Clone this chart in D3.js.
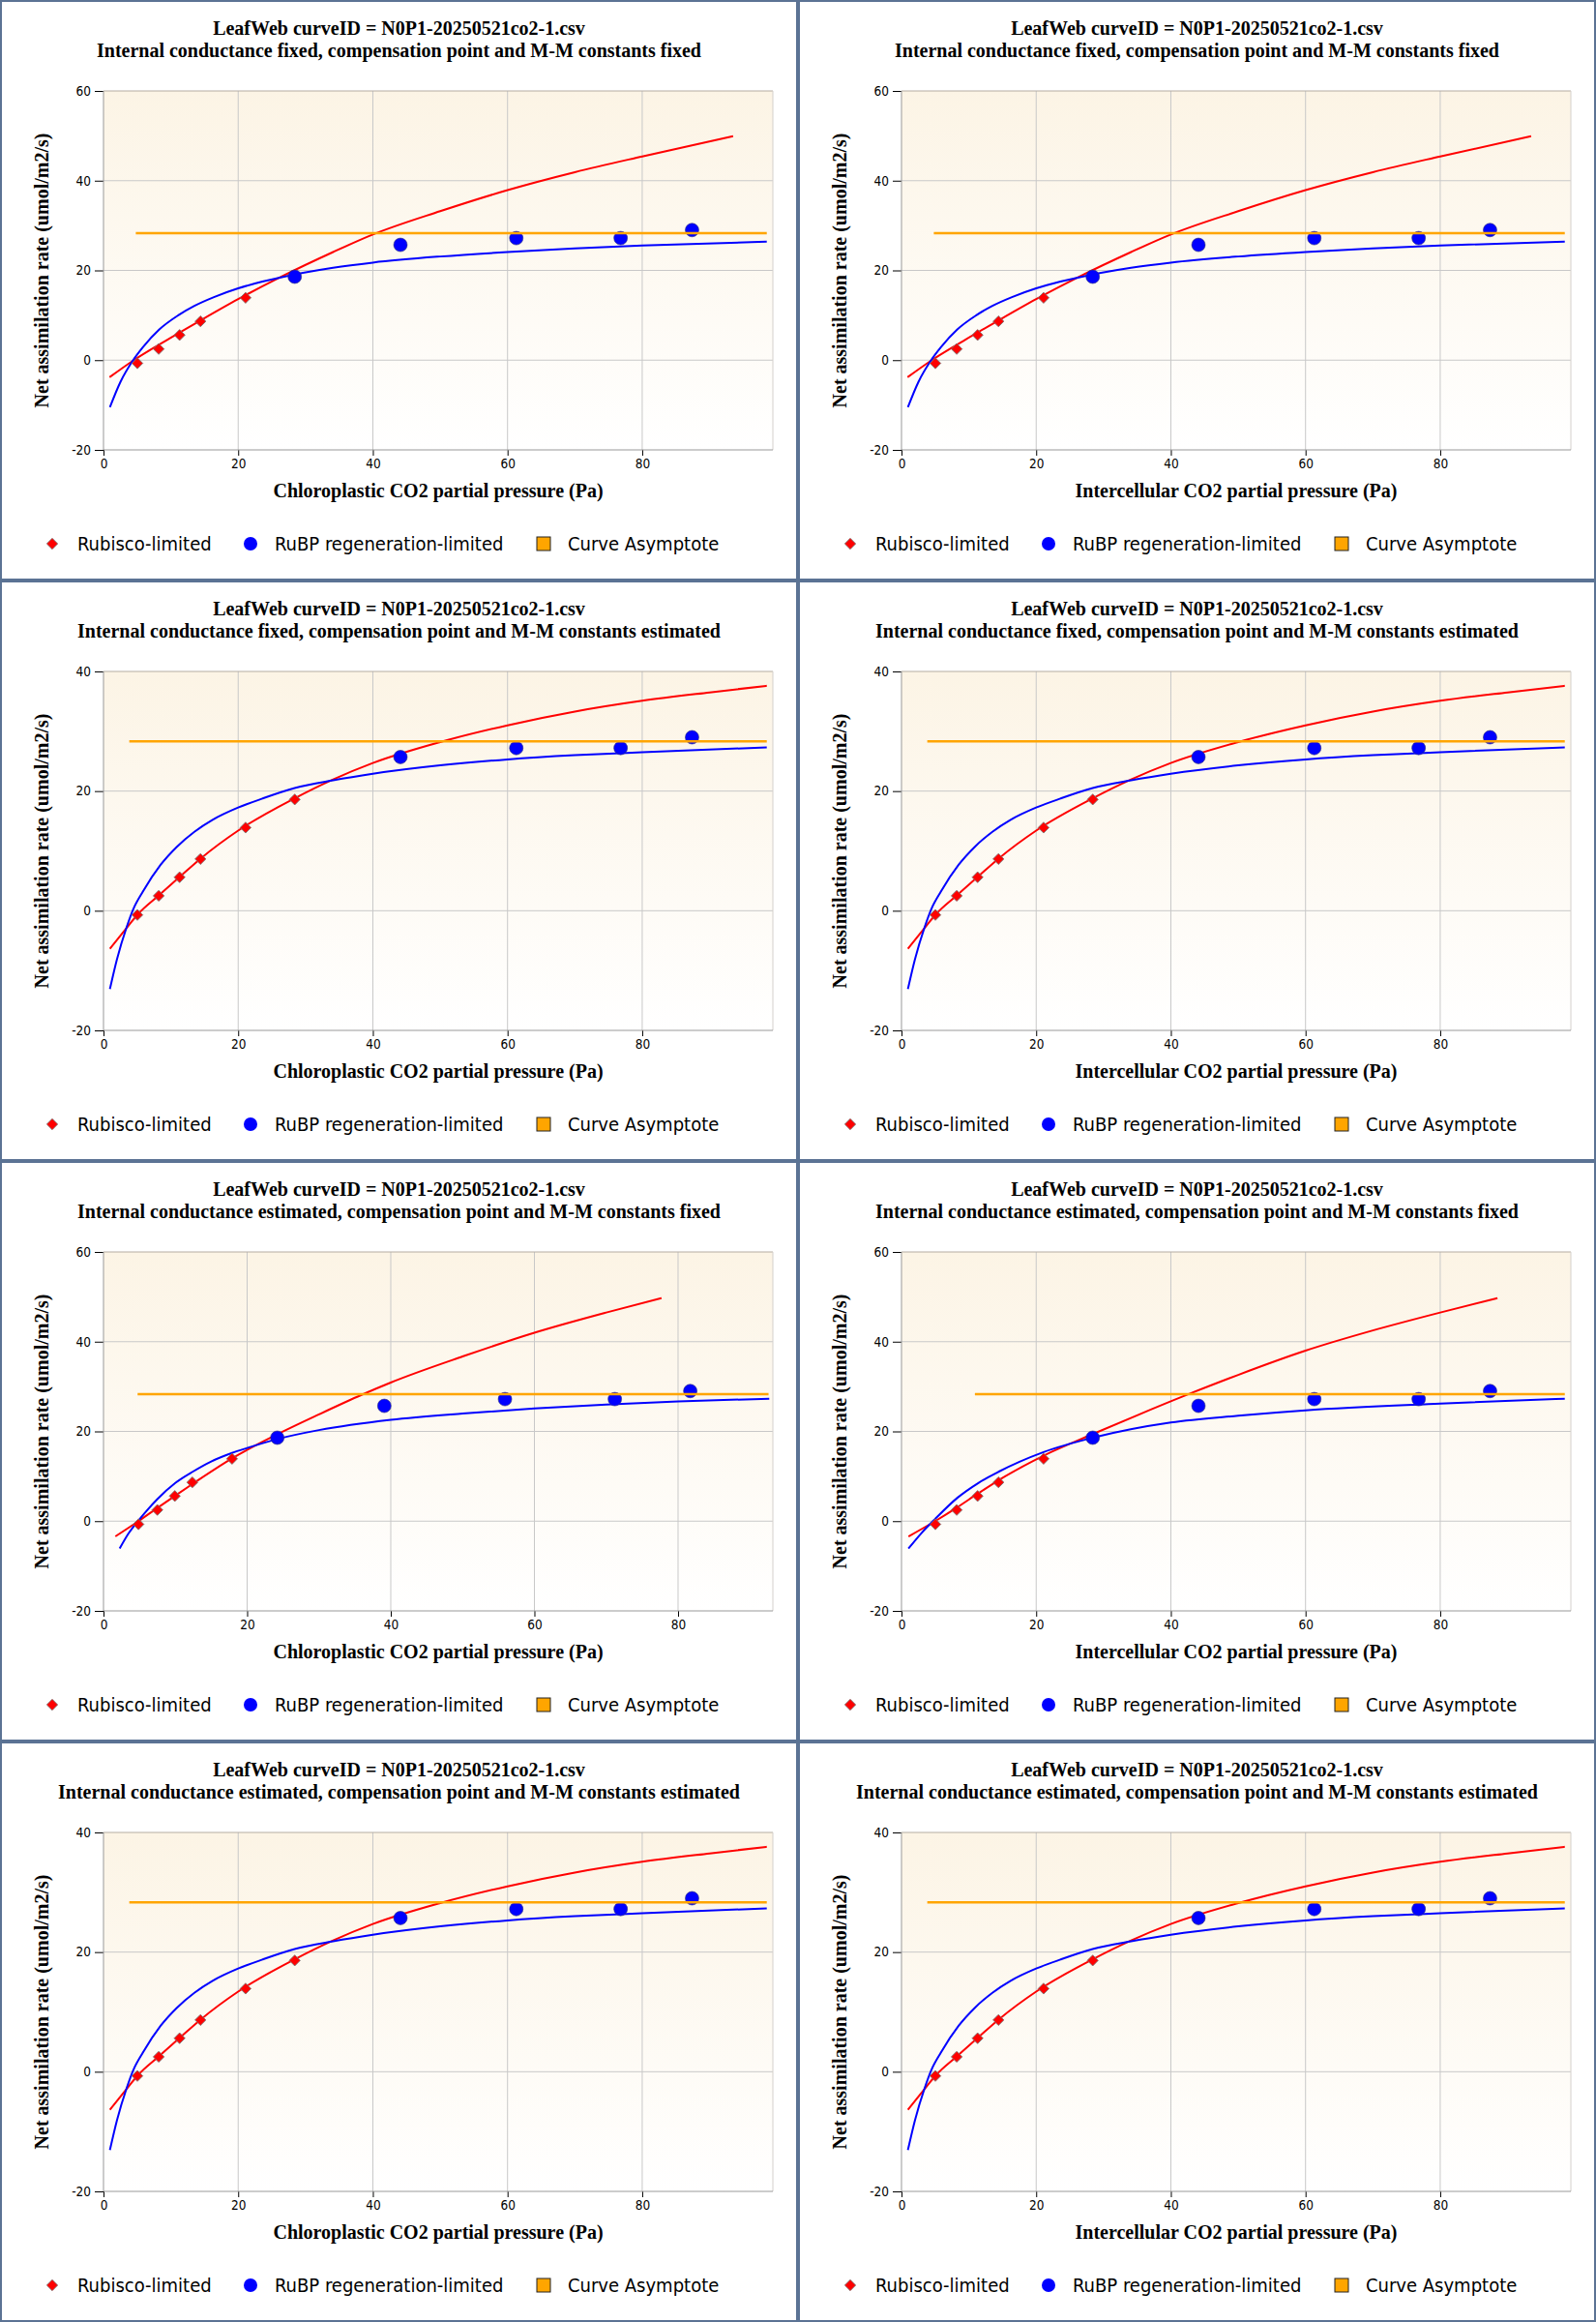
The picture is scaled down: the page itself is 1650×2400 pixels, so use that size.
<!DOCTYPE html>
<html lang="en">
<head>
<meta charset="UTF-8">
<script src="https://d3js.org/d3.v7.min.js"></script>
<title>LeafWeb A/Ci fits</title>
<style>
    body { margin: 0; background: #fff; }
    .serif { font-family: "Liberation Serif", "Times New Roman", serif; font-weight: bold; font-size: 20px; fill: #000; }
    .tick text { font-family: "DejaVu Sans Condensed", "DejaVu Sans", sans-serif; font-stretch: condensed; font-size: 13.5px; fill: #000; }
    .legend text { font-family: "DejaVu Sans Condensed", "DejaVu Sans", sans-serif; font-stretch: condensed; font-size: 20px; fill: #000; }
</style>
</head>
<body>
<svg id="chart" width="1650" height="2400"></svg>
<script>
// ---- data ----
const curveTitle = "LeafWeb curveID = N0P1-20250521co2-1.csv";
const subtitles = [
    "Internal conductance fixed, compensation point and M-M constants fixed",
    "Internal conductance fixed, compensation point and M-M constants estimated",
    "Internal conductance estimated, compensation point and M-M constants fixed",
    "Internal conductance estimated, compensation point and M-M constants estimated"
];
const xTitles = ["Chloroplastic CO2 partial pressure (Pa)", "Intercellular CO2 partial pressure (Pa)"];
const yTitle = "Net assimilation rate (umol/m2/s)";
const legendLabels = ["Rubisco-limited", "RuBP regeneration-limited", "Curve Asymptote"];
const xTicks = [0, 20, 40, 60, 80];

// observations
const obsX = [5.03, 8.2, 11.3, 14.4, 21.1, 28.4, 44.1, 61.3, 76.8, 87.4];
const obsXgmEst = [4.87, 7.5, 9.93, 12.37, 17.9, 24.2, 39.1, 55.9, 71.2, 81.7];
const obsA = [-0.7, 2.5, 5.6, 8.65, 13.9, 18.6, 25.7, 27.2, 27.2, 29.0];

// fit A: gm fixed, constants fixed
const rubiscoA = [[0.9,-3.8],[4.4,-0.1],[9.2,4.3],[14,8.5],[20,13.6],[26,18.3],[34.1,24.1],[40,28.0],[50,33.2],[60,37.9],[70,41.9],[80,45.4],[93.5,49.9]];
const rubpA = [[0.95,-10.5],[2.5,-4.9],[4.4,0],[5.85,2.9],[8.25,6.8],[11.1,10.0],[13.5,12.1],[16.4,14.05],[20,16.0],[23.6,17.5],[26,18.35],[34.1,20.6],[40,21.75],[50,23.1],[60,24.1],[70,24.9],[80,25.55],[98.5,26.4]];
// fit B: gm fixed, constants estimated
const rubiscoB = [[0.95,-6.35],[3.7,-2.5],[5.1,-0.6],[8.25,2.6],[11.4,5.75],[14.5,8.8],[20,13.4],[28.4,18.8],[34.1,21.95],[40,24.7],[50,28.2],[60,31.0],[70,33.3],[80,35.1],[90,36.5],[98.5,37.6]];
const rubpB = [[0.95,-13.1],[2.0,-8.1],[3.45,-2.7],[4.4,0.2],[5.85,3.2],[8.5,7.7],[10.9,10.7],[13.5,13.2],[16.2,15.2],[20,17.25],[23.6,18.75],[28.4,20.5],[34.1,21.8],[40,22.9],[50,24.3],[60,25.3],[70,26.0],[80,26.5],[98.5,27.3]];
// fit C: gm estimated, constants fixed (chloroplastic)
const rubiscoC = [[1.65,-3.4],[4.87,0],[7.5,2.95],[10,5.7],[12.4,8.3],[17.9,14.0],[24,19.2],[30,23.8],[36,28.2],[40,30.9],[50,36.7],[60,42.0],[70,46.5],[77.7,49.7]];
const rubpC = [[2.25,-6.1],[3.5,-2.7],[4.9,0.2],[6,2.3],[7.5,4.9],[10,8.5],[12.4,11.0],[15,13.3],[17.9,15.2],[20,16.3],[24.2,18.3],[30,20.3],[40,22.6],[50,24.0],[60,25.1],[70,26.0],[80,26.7],[92.7,27.3]];
// fit D: gm estimated, constants fixed (intercellular)
const rubiscoD = [[1.04,-3.4],[5,0],[8.3,3.1],[11.3,6.1],[14.4,9.1],[21.1,14.6],[28.4,19.4],[35,23.6],[42.3,28.1],[50,32.6],[60,38.0],[70,42.5],[80,46.5],[88.5,49.7]];
const rubpD = [[1.04,-6.1],[3,-2.6],[5,0.5],[8.3,5.2],[11.3,8.4],[14.4,11.0],[21.1,15.4],[28.4,18.6],[40,22.0],[50,23.5],[60,24.7],[80,26.2],[98.5,27.3]];

const asymptoteY = 28.3;
const asymptoteStart = [4.8, 3.83, 4.75, 10.9];   // A, B, C, D
const asymptoteEnd = [98.5, 98.5, 92.6, 98.5];
const xMaxFit = [99.4, 99.4, 93.2, 99.4];
const yMaxFit = [60, 40, 60, 60];
const nRubiscoFit = [5, 6, 5, 5];

const fits = [
    { rub: rubiscoA, rubp: rubpA, xs: obsX },
    { rub: rubiscoB, rubp: rubpB, xs: obsX },
    { rub: rubiscoC, rubp: rubpC, xs: obsXgmEst },
    { rub: rubiscoD, rubp: rubpD, xs: obsX }
];
fits.forEach((f, i) => {
    f.a0 = asymptoteStart[i]; f.a1 = asymptoteEnd[i];
    f.xMax = xMaxFit[i]; f.yMax = yMaxFit[i]; f.nRub = nRubiscoFit[i];
});

// panels row by row: which fit and which subtitle
const panelFit = [0, 0, 1, 1, 2, 3, 1, 1];
const panelSub = [0, 0, 1, 1, 2, 2, 3, 3];

// ---- drawing ----
const W = 825, H = 600;
const pLeft = 107, pRight = 799, pTop = 94, pBottom = 465;
const svg = d3.select("#chart");

const grad = svg.append("defs").append("linearGradient")
    .attr("id", "bg").attr("x1", 0).attr("y1", 0).attr("x2", 0).attr("y2", 1);
grad.append("stop").attr("offset", "0%").attr("stop-color", "#fcf4e5");
grad.append("stop").attr("offset", "100%").attr("stop-color", "#ffffff");

const diamond = d3.symbol(d3.symbolSquare, 64);

panelFit.forEach((fi, i) => {
    const fit = fits[fi];
    const col = i % 2, row = Math.floor(i / 2);
    const g = svg.append("g").attr("transform", `translate(${col * W},${row * H})`);

    const x = d3.scaleLinear().domain([0, fit.xMax]).range([pLeft, pRight]);
    const y = d3.scaleLinear().domain([-20, fit.yMax]).range([pBottom, pTop]);
    const yTicks = d3.range(-20, fit.yMax + 1, 20);

    g.append("rect").attr("x", pLeft).attr("y", pTop)
        .attr("width", pRight - pLeft).attr("height", pBottom - pTop)
        .attr("fill", "url(#bg)");

    // grid
    g.selectAll(".vg").data(xTicks.filter(d => d > 0)).enter().append("line")
        .attr("x1", d => x(d)).attr("x2", d => x(d)).attr("y1", pTop).attr("y2", pBottom)
        .attr("stroke", "#c8c8c8").attr("stroke-width", 1);
    g.selectAll(".hg").data(yTicks.filter(d => d > -20)).enter().append("line")
        .attr("x1", pLeft).attr("x2", pRight).attr("y1", d => y(d)).attr("y2", d => y(d))
        .attr("stroke", d => d === fit.yMax ? "#b4aca2" : "#c8c8c8").attr("stroke-width", 1);
    g.append("line").attr("x1", pRight).attr("x2", pRight).attr("y1", pTop).attr("y2", pBottom)
        .attr("stroke", "#d4d0cc");

    // axes
    const ya = g.append("g").attr("transform", `translate(${pLeft},0)`)
        .call(d3.axisLeft(y).tickValues(yTicks).tickSize(9).tickPadding(4).tickFormat(d => String(d)));
    ya.select(".domain").remove();
    ya.selectAll(".tick line").attr("stroke", "#000");
    const xa = g.append("g").attr("transform", `translate(0,${pBottom})`)
        .call(d3.axisBottom(x).tickValues(xTicks).tickSize(6).tickPadding(3).tickFormat(d => String(d)));
    xa.select(".domain").remove();
    xa.selectAll(".tick line").attr("stroke", "#000");
    g.append("line").attr("x1", pLeft).attr("x2", pLeft).attr("y1", pTop).attr("y2", pBottom).attr("stroke", "#999");
    g.append("line").attr("x1", pLeft).attr("x2", pRight).attr("y1", pBottom).attr("y2", pBottom).attr("stroke", "#999");

    // fitted curves
    const line = d3.line().x(d => x(d[0])).y(d => y(d[1])).curve(d3.curveMonotoneX);
    g.append("path").datum(fit.rub).attr("d", line)
        .attr("fill", "none").attr("stroke", "#ff0000").attr("stroke-width", 2);
    g.append("path").datum(fit.rubp).attr("d", line)
        .attr("fill", "none").attr("stroke", "#0000ff").attr("stroke-width", 2);

    // observations
    const pts = obsA.map((a, k) => ({ x: fit.xs[k], a: a, rub: k < fit.nRub }));
    g.selectAll(".dia").data(pts.filter(d => d.rub)).enter().append("path")
        .attr("d", diamond)
        .attr("transform", d => `translate(${x(d.x)},${y(d.a)}) rotate(45)`)
        .attr("fill", "#ff0000").attr("stroke", "#777").attr("stroke-width", 0.8);
    g.selectAll(".dot").data(pts.filter(d => !d.rub)).enter().append("circle")
        .attr("cx", d => x(d.x)).attr("cy", d => y(d.a)).attr("r", 7)
        .attr("fill", "#0000ff").attr("stroke", "#33337a").attr("stroke-width", 0.6);

    // asymptote
    g.append("line")
        .attr("x1", x(fit.a0)).attr("x2", x(fit.a1))
        .attr("y1", y(asymptoteY)).attr("y2", y(asymptoteY))
        .attr("stroke", "#ffa500").attr("stroke-width", 2.5);

    // titles
    g.append("text").attr("class", "serif").attr("x", W / 2).attr("y", 36)
        .attr("text-anchor", "middle").text(curveTitle);
    g.append("text").attr("class", "serif").attr("x", W / 2).attr("y", 59)
        .attr("text-anchor", "middle").text(subtitles[panelSub[i]]);
    g.append("text").attr("class", "serif").attr("x", (pLeft + pRight) / 2).attr("y", 514)
        .attr("text-anchor", "middle").text(xTitles[col]);
    g.append("text").attr("class", "serif")
        .attr("transform", `translate(50,${(pTop + pBottom) / 2}) rotate(-90)`)
        .attr("text-anchor", "middle").text(yTitle);

    // legend
    const lg = g.append("g").attr("class", "legend");
    lg.append("path").attr("d", diamond).attr("transform", "translate(54,562) rotate(45)")
        .attr("fill", "#ff0000").attr("stroke", "#777").attr("stroke-width", 0.8);
    lg.append("circle").attr("cx", 259).attr("cy", 562).attr("r", 7).attr("fill", "#0000ff");
    lg.append("rect").attr("x", 555).attr("y", 555).attr("width", 14).attr("height", 14)
        .attr("fill", "#ffa500").attr("stroke", "#222").attr("stroke-width", 1);
    [80, 284, 587].forEach((lx, k) => {
        lg.append("text").attr("x", lx).attr("y", 569).text(legendLabels[k]);
    });

    // panel frame
    g.append("rect").attr("x", 0).attr("y", 0).attr("width", W).attr("height", H)
        .attr("fill", "none").attr("stroke", "#5b7394").attr("stroke-width", 4);
});
</script>
</body>
</html>
